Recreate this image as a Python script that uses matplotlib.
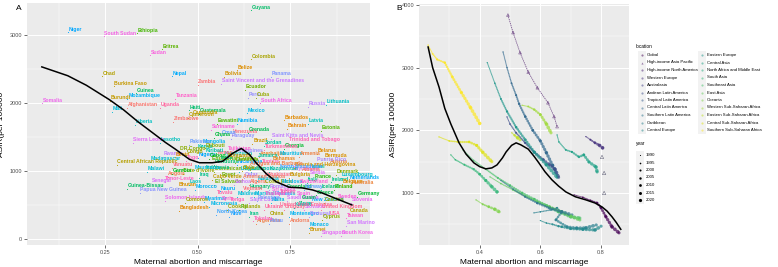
import numpy as np
import matplotlib
matplotlib.use('Agg')
import matplotlib.pyplot as plt
from matplotlib.collections import LineCollection
from matplotlib.patches import Rectangle

plt.rcParams['font.family'] = ['Liberation Sans', 'DejaVu Sans']

# panel A: countries (abortion share vs ASIR)
countries = ['Niger','South Sudan','Ethiopia','Eritrea','Sudan','Chad','Nepal','Burkina Faso','Guinea','Mozambique',
  'Burundi','Somalia','Afghanistan','Mali','Tanzania','Uganda','Haiti','Liberia','Zimbabwe','Cameroon',
  'Zambia','Guyana','Colombia','Belize','Bolivia','Panama','Saint Vincent and the Grenadines','Ecuador','Peru','Cuba',
  'South Africa','Russia','Lithuania','Guatemala','Mexico','Cambodia','Eswatini','Namibia','Barbados','Latvia',
  'Bahrain','Estonia','Suriname','Venezuela','Grenada','Saint Kitts and Nevis','Trinidad and Tobago','Georgia','Belarus','Oman',
  'Paraguay','Ghana','Mongolia','Brazil','Jordan','Pakistan','Kenya','Nigeria','Sierra Leone','Lesotho',
  'Rwanda','Madagascar','Central African Republic','Malawi','Vanuatu','Angola','Timor-Leste','Senegal','Bhutan','Guinea-Bissau',
  'Papua New Guinea','Solomon Islands','Bangladesh','Kyrgyzstan','Azerbaijan','Mauritius','Armenia','Equatorial Guinea','Austria','Seychelles',
  'Honduras','Nicaragua','Tunisia','Dominican Republic','Libya','Lebanon','Kazakhstan','Israel','Denmark','Netherlands',
  'Iraq','Egypt','Qatar','Uzbekistan','Bulgaria','Italy','France','Luxembourg','Laos','El Salvador',
  'Samoa','Algeria','Costa Rica','Moldova','Switzerland','Iceland','Australia','Morocco','Tuvalu','Hungary',
  'Romania','Greenland','Norway','Finland','Germany','Myanmar','Syria','Maldives','Marshall Islands','Poland',
  'Spain','New Zealand','Sweden','Slovenia','Comoros','Micronesia','Tonga','Saint Lucia','Malta','Japan',
  'Czechia','Canada','North Korea','Fiji','Ukraine','Uruguay','Slovakia','United Kingdom','USA','Niue',
  'Iran','China','Montenegro','Portugal','Cyprus','San Marino','Argentina','Palau','Andorra','Monaco',
  'Brunei','Singapore','South Korea','Indonesia','India','Philippines','Vietnam','Thailand','Sri Lanka','Turkey',
  'Saudi Arabia','Kuwait','United Arab Emirates','Palestine','Yemen','Tajikistan','Turkmenistan','Albania','Serbia','Bosnia and Herzegovina',
  'North Macedonia','Ireland','Belgium','Chile','Jamaica','Bahamas','Dominica','Antigua and Barbuda','Cook Islands','Nauru',
  'Kiribati','Mauritania','Gabon','Congo','DR Congo','Benin','Cote d\'Ivoire','Gambia','Botswana','Cabo Verde',
  'Tokelau','Malaysia','Greece','Bermuda','Puerto Rico','Taiwan','Guam','American Samoa','Djibouti','Togo']
abort_x = [0.150,0.247,0.336,0.403,0.371,0.242,0.430,0.274,0.333,0.311,
  0.263,0.080,0.311,0.268,0.440,0.398,0.478,0.330,0.435,0.473,
  0.500,0.645,0.645,0.607,0.572,0.699,0.564,0.629,0.637,0.658,
  0.669,0.798,0.846,0.505,0.634,0.484,0.553,0.607,0.733,0.798,
  0.742,0.833,0.537,0.594,0.637,0.699,0.744,0.733,0.822,0.564,
  0.591,0.545,0.513,0.648,0.680,0.478,0.497,0.500,0.325,0.398,
  0.406,0.371,0.282,0.363,0.432,0.419,0.411,0.376,0.446,0.311,
  0.344,0.411,0.451,0.572,0.666,0.720,0.774,0.537,0.855,0.755,
  0.545,0.607,0.672,0.545,0.613,0.645,0.693,0.806,0.873,0.908,
  0.505,0.564,0.626,0.680,0.747,0.795,0.814,0.887,0.478,0.545,
  0.599,0.639,0.680,0.726,0.774,0.833,0.914,0.492,0.551,0.639,
  0.693,0.739,0.787,0.868,0.930,0.518,0.564,0.607,0.653,0.707,
  0.766,0.806,0.876,0.914,0.465,0.532,0.586,0.639,0.699,0.769,
  0.841,0.908,0.551,0.613,0.680,0.733,0.787,0.833,0.855,0.586,
  0.639,0.693,0.747,0.801,0.836,0.900,0.658,0.693,0.747,0.801,
  0.801,0.833,0.887,0.520,0.560,0.600,0.620,0.680,0.700,0.720,
  0.740,0.760,0.720,0.660,0.550,0.580,0.680,0.780,0.800,0.760,
  0.720,0.860,0.890,0.620,0.660,0.700,0.600,0.640,0.580,0.560,
  0.520,0.490,0.530,0.470,0.450,0.440,0.460,0.430,0.580,0.540,
  0.650,0.660,0.820,0.840,0.820,0.900,0.780,0.620,0.520,0.470]
asir_y = [3044,2985,3029,2794,2706,2397,2397,2250,2147,2059,
  2030,2000,1927,1868,2059,1927,1897,1677,1721,1780,
  2265,3368,2647,2485,2383,2383,2280,2192,2074,2074,
  2000,1942,1971,1839,1853,1810,1692,1692,1750,1692,
  1618,1589,1603,1530,1560,1471,1412,1324,1251,1515,
  1471,1486,1383,1398,1368,1383,1310,1192,1412,1412,
  1207,1133,1089,986,1045,913,839,810,751,736,
  677,560,413,1207,1207,1207,1207,1133,1089,986,
  1089,1089,1089,986,986,986,986,1016,942,854,
  898,898,898,898,898,824,868,898,795,795,
  795,795,795,795,795,721,780,721,633,721,
  721,721,721,721,619,545,545,619,619,619,
  619,530,575,530,530,472,530,530,530,472,
  530,369,354,427,427,427,427,427,325,325,
  325,325,325,325,280,192,222,222,222,163,
  89,45,45,1000,1150,1250,700,620,680,650,
  560,460,470,560,1230,1280,1310,980,930,1050,
  1020,830,800,1000,1180,1140,1120,1060,430,700,
  1260,1010,1180,1240,1280,1200,960,960,1180,870,
  260,850,640,1190,1120,300,560,880,1330,1150]

# loess line
fitA_x = [0.08,0.15,0.20,0.263,0.30,0.34,0.379,0.413,0.44,0.478,0.505,0.54,0.567,0.595,0.618,
  0.64,0.658,0.685,0.712,0.747,0.782,0.81,0.836,0.87,0.916]
fitA_y = [2530,2400,2260,2045,1900,1720,1560,1420,1320,1170,1120,1120,1140,1260,1330,
  1240,1118,960,840,760,750,720,675,600,500]

# panel B: GBD regions, trajectories 1990 -> 2021
locations = ['Global','High-income Asia Pacific','High-income North America','Western Europe','Australasia',
  'Andean Latin America','Tropical Latin America','Central Latin America','Southern Latin America','Caribbean',
  'Central Europe','Eastern Europe','Central Asia','North Africa and Middle East','South Asia','Southeast Asia',
  'East Asia','Oceania','Western Sub-Saharan Africa','Eastern Sub-Saharan Africa','Central Sub-Saharan Africa',
  'Southern Sub-Saharan Africa']
years = [1990,1995,2000,2005,2010,2015,2020]

traj_loc = ['Southern Sub-Saharan Africa','High-income Asia Pacific','Central Latin America','Andean Latin America',
  'Western Sub-Saharan Africa','Eastern Sub-Saharan Africa','Eastern Europe','Central Asia',
  'Western Europe','Global','Central Sub-Saharan Africa','South Asia','Oceania','Southeast Asia',
  'Caribbean','Central Europe','East Asia','Southern Latin America']
traj_x = [
  [0.23,0.245,0.26,0.285,0.31,0.34,0.37,0.40],
  [0.493,0.51,0.533,0.56,0.59,0.625,0.645,0.655],
  [0.477,0.49,0.505,0.52,0.53,0.55,0.575,0.60,0.62,0.64,0.655],
  [0.49,0.50,0.52,0.55,0.58,0.61,0.63,0.648,0.66],
  [0.54,0.56,0.58,0.60,0.62,0.635],
  [0.506,0.515,0.525,0.533],
  [0.425,0.45,0.47,0.49,0.52,0.55,0.58,0.62,0.655],
  [0.655,0.661,0.684,0.704,0.727,0.743,0.76,0.783,0.787],
  [0.75,0.765,0.78,0.795,0.805],
  [0.711,0.74,0.765,0.787,0.80,0.816,0.836,0.859],
  [0.266,0.30,0.33,0.365,0.39,0.41,0.44],
  [0.305,0.32,0.35,0.38,0.40,0.42,0.44,0.457],
  [0.388,0.41,0.43,0.45,0.464],
  [0.345,0.38,0.42,0.46,0.50,0.54,0.58,0.62,0.66,0.70,0.73],
  [0.579,0.60,0.635,0.655,0.668,0.651,0.688,0.72,0.75,0.784],
  [0.60,0.62,0.64,0.66,0.671,0.70,0.74,0.78,0.80],
  [0.434,0.47,0.51,0.55,0.59,0.63,0.67,0.70,0.73],
  [0.47,0.51,0.55,0.59,0.63,0.67,0.704]]
traj_y = [
  [3360,3220,3130,3080,2850,2600,2360,2110],
  [3840,3560,3240,2930,2680,2440,2220,2060],
  [3250,3000,2750,2560,2420,2220,2000,1830,1640,1440,1290],
  [2214,2100,1960,1800,1650,1530,1450,1380,1250],
  [2400,2380,2330,2250,2100,1960],
  [1960,1920,1880,1850],
  [3080,2750,2500,2300,2050,1850,1650,1450,1250],
  [1926,1815,1687,1655,1576,1608,1496,1416,1336],
  [1900,1850,1800,1760,1720],
  [970,930,880,842,760,620,460,364],
  [1895,1830,1815,1815,1760,1650,1500],
  [1608,1530,1450,1380,1300,1200,1100,1018],
  [890,820,780,740,700],
  [1687,1520,1380,1240,1120,1000,900,800,700,620,600],
  [683,700,730,762,683,570,460,440,443,490],
  [560,520,500,470,460,430,420,410,470],
  [1257,1150,1050,950,860,780,700,630,570],
  [1200,1060,940,840,760,700,650]]
# extra open triangles at the right edge
tri_x = [0.803,0.81,0.81]
tri_y = [1576,1320,1001]

# loess line
fitB_x = [0.23,0.245,0.266,0.285,0.305,0.332,0.355,0.381,0.40,0.42,0.44,0.457,0.475,0.487,0.505,0.52,
  0.535,0.56,0.58,0.595,0.615,0.638,0.66,0.684,0.715,0.75,0.78,0.803,0.82,0.836,0.85,0.865]
fitB_y = [3330,3000,2690,2350,2100,1800,1620,1480,1420,1385,1400,1448,1560,1655,1760,1800,
  1770,1700,1580,1480,1340,1210,1110,1017,940,890,840,778,710,620,530,420]


def hue_col(h, c=100, l=65):
  # ggplot hue palette colour (polar Luv -> sRGB)
  Xn, Yn, Zn = 95.047, 100.0, 108.883
  un = 4*Xn/(Xn+15*Yn+3*Zn)
  vn = 9*Yn/(Xn+15*Yn+3*Zn)
  u = c*np.cos(np.radians(h))
  v = c*np.sin(np.radians(h))
  Y = Yn*((l+16)/116.)**3
  up = u/(13*l)+un
  vp = v/(13*l)+vn
  X = Y*9*up/(4*vp)
  Z = Y*(12-3*up-20*vp)/(4*vp)
  M = np.array([[3.2406,-1.5372,-0.4986],[-0.9689,1.8758,0.0415],[0.0557,-0.2040,1.0570]])
  rgb = M @ np.array([X,Y,Z])/100.
  rgb = np.clip(rgb, 0, None)
  rgb = np.where(rgb <= 0.0031308, 12.92*rgb, 1.055*rgb**(1/2.4)-0.055)
  return tuple(np.clip(rgb, 0, 1))


def gg_axes(ax):
  ax.set_facecolor('#EBEBEB')
  for s in ax.spines.values():
    s.set_visible(False)
  ax.grid(True, which='major', color='white', lw=0.7)
  ax.grid(True, which='minor', color='white', lw=0.35)
  ax.set_axisbelow(True)
  ax.tick_params(which='major', length=2, width=0.5, color='#333333', labelsize=4, labelcolor='#4D4D4D', pad=1.5)
  ax.tick_params(which='minor', length=0)


fig = plt.figure(figsize=(7.78, 2.67), dpi=100)

# ---------- panel A
axA = fig.add_axes([27/778, 22/267, 343/778, 242/267])
gg_axes(axA)
axA.set_xlim(0.04, 0.965)
axA.set_ylim(-90, 3470)
axA.set_xticks([0.25, 0.5, 0.75])
axA.set_xticklabels(['0.25', '0.50', '0.75'])
axA.set_xticks([0.125, 0.375, 0.625, 0.875], minor=True)
axA.set_yticks([0, 1000, 2000, 3000])
axA.set_yticks([500, 1500, 2500], minor=True)

order = sorted(countries)
hues = np.linspace(15, 375, len(order)+1)[:-1]
for name, x, y in zip(countries, abort_x, asir_y):
  col = hue_col(hues[order.index(name)])
  axA.scatter(x, y, s=0.6, color=col, lw=0, zorder=3)
  axA.annotate(name, (x, y), xytext=(0.5, 0.3), textcoords='offset points', fontsize=3.7,
    color=col, fontweight='bold', ha='left', va='bottom', zorder=3)
axA.plot(fitA_x, fitA_y, color='black', lw=1.1, zorder=4)
axA.set_xlabel('Maternal abortion and miscarriage', fontsize=6, labelpad=3)
axA.set_ylabel('ASIR(per 100000', fontsize=6, labelpad=3)
fig.text(16/778, 1-10/267, 'A', fontsize=6)

# ---------- panel B
axB = fig.add_axes([419/778, 22/267, 210/778, 241/267])
gg_axes(axB)
axB.set_xlim(0.2, 0.892)
axB.set_ylim(170, 4016)
axB.set_xticks([0.4, 0.6, 0.8])
axB.set_xticks([0.3, 0.5, 0.7], minor=True)
axB.set_yticks([1000, 2000, 3000, 4000])
axB.set_yticks([500, 1500, 2500, 3500], minor=True)

cmap = plt.get_cmap('viridis')
loc_col = {name: cmap(i/(len(locations)-1)) for i, name in enumerate(locations)}

for name, xs, ys in zip(traj_loc, traj_x, traj_y):
  col = loc_col[name]
  pts = np.column_stack([xs, ys])
  segs = np.stack([pts[:-1], pts[1:]], axis=1)
  widths = np.linspace(0.9, 2.6, len(segs))
  if name == 'High-income Asia Pacific':
    lc = LineCollection(segs, linewidths=0.6, colors=[col], alpha=0.7, linestyles=[(0, (1.6, 0.9))])
    axB.add_collection(lc)
    axB.scatter(xs, ys, s=4, marker='^', facecolors='none', edgecolors=[col], lw=0.4, alpha=0.7)
  else:
    lc = LineCollection(segs, linewidths=widths, colors=[col], alpha=0.7,
      linestyles=[(0, (0.1, 0.9))], capstyle='round')
    axB.add_collection(lc)
    axB.scatter(xs, ys, s=np.linspace(0.8, 5, len(xs)), color=col, lw=0, alpha=0.7)
axB.scatter(tri_x, tri_y, s=6, marker='^', facecolors='none', edgecolors='#6b6b80', lw=0.4)
axB.plot(fitB_x, fitB_y, color='black', lw=1.1, zorder=4)
axB.set_xlabel('Maternal abortion and miscarriage', fontsize=6, labelpad=3)
axB.set_ylabel('ASIR(per 100000', fontsize=6, labelpad=3)
fig.text(396/778, 1-10/267, 'B', fontsize=6)

# ---------- legends (figure pixel coords)
lx = fig.add_axes([0, 0, 1, 1])
lx.set_xlim(0, 778)
lx.set_ylim(267, 0)
lx.axis('off')
lx.text(636, 47, 'location', fontsize=3.4, va='center')
for i, name in enumerate(locations):
  colno, row = divmod(i, 11)
  kx = 642 + 60*colno
  ky = 55 + 7.5*row
  lx.add_patch(Rectangle((kx-3.7, ky-3.7), 7.4, 7.4, color='#F2F2F2', lw=0))
  mk = '^' if name == 'High-income Asia Pacific' else 'o'
  lx.scatter(kx, ky, s=2.5, marker=mk, color=loc_col[name], alpha=0.5, lw=0)
  lx.text(kx+5, ky, name, fontsize=3.1, va='center')
lx.text(636, 144, 'year', fontsize=3.4, va='center')
for i, yr in enumerate(years):
  ky = 155 + 7.5*i
  lx.add_patch(Rectangle((636.3, ky-3.7), 7.4, 7.4, color='#F2F2F2', lw=0))
  lx.scatter(640, ky, s=0.6 + 0.8*i, color='black', lw=0)
  lx.text(646, ky, str(yr), fontsize=3.1, va='center')

fig.savefig('out.png', dpi=100)
